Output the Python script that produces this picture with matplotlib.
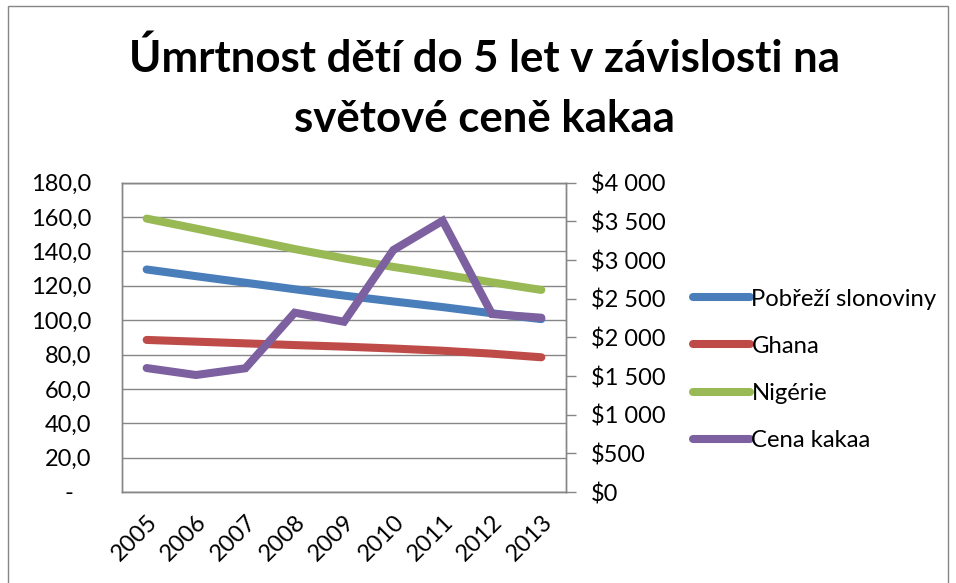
import matplotlib
matplotlib.use('Agg')
import matplotlib.pyplot as plt
from matplotlib.patches import Rectangle
from matplotlib.lines import Line2D

plt.rcParams['font.family'] = ['Lato', 'DejaVu Sans']

# data
years = ['2005', '2006', '2007', '2008', '2009', '2010', '2011', '2012', '2013']
pobrezi = [129.5, 125.6, 121.8, 118.0, 114.3, 110.9, 107.6, 104.0, 100.6]
ghana = [88.5, 87.5, 86.5, 85.5, 84.6, 83.5, 82.2, 80.5, 78.4]
nigerie = [159.1, 153.3, 147.4, 141.4, 136.0, 131.0, 126.6, 122.0, 117.6]
cena_kakaa = [1603, 1513, 1600, 2319, 2202, 3129, 3508, 2301, 2254]

left_ticks = [0, 20, 40, 60, 80, 100, 120, 140, 160, 180]
right_ticks = [0, 500, 1000, 1500, 2000, 2500, 3000, 3500, 4000]

c_blue = '#4A7EBB'
c_red = '#BE4B48'
c_green = '#98B954'
c_purple = '#7D60A0'
c_axis = '#868686'

fig = plt.figure(figsize=(9.56, 5.83), dpi=100)
ax = fig.add_axes([122 / 956, 1 - 492 / 583, 444 / 956, 309.3 / 583])
ax2 = ax.twinx()

x = list(range(len(years)))
lw = 5.8
ax.plot(x, pobrezi, color=c_blue, lw=lw, solid_capstyle='round', solid_joinstyle='miter')
ax.plot(x, ghana, color=c_red, lw=lw, solid_capstyle='round', solid_joinstyle='miter')
ax.plot(x, nigerie, color=c_green, lw=lw, solid_capstyle='round', solid_joinstyle='miter')
ax2.plot(x, cena_kakaa, color=c_purple, lw=lw, solid_capstyle='round', solid_joinstyle='miter')

ax.set_xlim(-0.5, len(years) - 0.5)
ax.set_ylim(0, 180)
ax2.set_ylim(0, 4000)

ax.set_yticks(left_ticks)
ax.set_yticklabels(['-   ' if v == 0 else f'{v:.1f}'.replace('.', ',') for v in left_ticks])
ax2.set_yticks(right_ticks)
ax2.set_yticklabels(['$' + f'{v:,}'.replace(',', ' ') for v in right_ticks])

ax.grid(axis='y', color=c_axis, lw=1.0)
ax.set_axisbelow(True)
ax.set_xticks(x)
ax.set_xticklabels(years, rotation=45, ha='right', rotation_mode='anchor')

ax.tick_params(axis='y', length=0, pad=22, labelsize=17)
ax.tick_params(axis='x', length=0, pad=14, labelsize=17)
ax2.tick_params(axis='y', length=7, width=1.0, color=c_axis, pad=11, labelsize=17)

for a in (ax, ax2):
    for s in a.spines.values():
        s.set_color(c_axis)
        s.set_linewidth(1.0)

handles = [Line2D([], [], color=c, lw=lw, solid_capstyle='round') for c in (c_blue, c_red, c_green, c_purple)]
fig.legend(handles, ['Pobřeží slonoviny', 'Ghana', 'Nigérie', 'Cena kakaa'],
           loc='center left', bbox_to_anchor=(681 / 956, 1 - 370 / 583),
           frameon=False, fontsize=17.2, handlelength=2.4, handletextpad=0.05,
           labelspacing=1.1, borderpad=0)

fig.text(0.507, 1 - 38 / 583, 'Úmrtnost dětí do 5 let v závislosti na\nsvětové ceně kakaa',
         ha='center', va='top', fontsize=31.5, fontweight='bold', linespacing=1.6)

fig.patches.append(Rectangle((8 / 956, -0.01), 940 / 956, 1.0, transform=fig.transFigure,
                             fill=False, edgecolor=c_axis, lw=1.0))

fig.savefig('out.png', dpi=100)
